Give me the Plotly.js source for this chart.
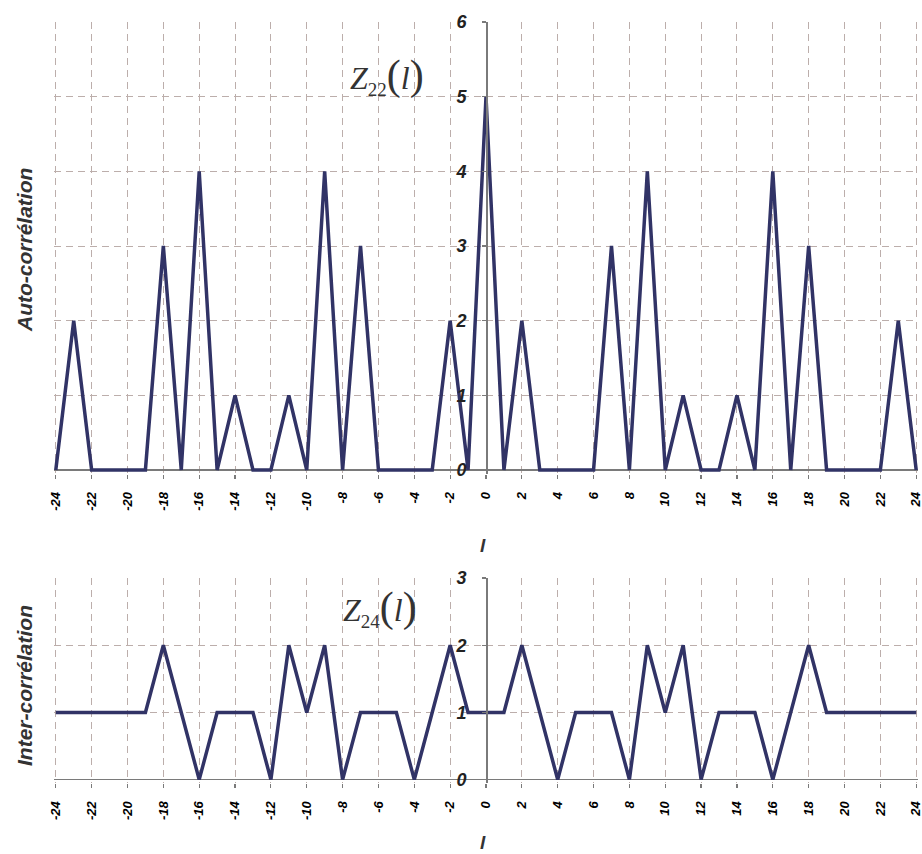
<!DOCTYPE html>
<html>
<head>
<meta charset="utf-8">
<script src="https://cdn.plot.ly/plotly-3.0.1.min.js"></script>
<style>html,body{margin:0;padding:0;background:#fff;}#chart{width:922px;height:854px;}</style>
</head>
<body>
<div id="chart"></div>
<script>
// lag values l = -24 .. 24
const lags = [-24,-23,-22,-21,-20,-19,-18,-17,-16,-15,-14,-13,-12,-11,-10,-9,-8,-7,-6,-5,-4,-3,-2,-1,0,1,2,3,4,5,6,7,8,9,10,11,12,13,14,15,16,17,18,19,20,21,22,23,24];
// Auto-correlation Z22(l)
const autoCorr = [0,2,0,0,0,0,3,0,4,0,1,0,0,1,0,4,0,3,0,0,0,0,2,0,5,0,2,0,0,0,0,3,0,4,0,1,0,0,1,0,4,0,3,0,0,0,0,2,0];
// Inter-correlation Z24(l)
const interCorr = [1,1,1,1,1,1,2,1,0,1,1,1,0,2,1,2,0,1,1,1,0,1,2,1,1,1,2,1,0,1,1,1,0,2,1,2,0,1,1,1,0,1,2,1,1,1,1,1,1];
const xTickVals = [-24,-22,-20,-18,-16,-14,-12,-10,-8,-6,-4,-2,0,2,4,6,8,10,12,14,16,18,20,22,24];
const xTickText = xTickVals.map(String);
const topYTicks = [0,1,2,3,4,5,6];
const bottomYTicks = [0,1,2,3];

const lineColor = '#313366';
const gridColor = '#bcaeab';
const axisColor = '#7a7a7a';

const traces = [
  {x: lags, y: autoCorr, xaxis: 'x', yaxis: 'y', type: 'scatter', mode: 'lines',
   line: {color: lineColor, width: 3.5}, hoverinfo: 'skip'},
  {x: lags, y: interCorr, xaxis: 'x2', yaxis: 'y2', type: 'scatter', mode: 'lines',
   line: {color: lineColor, width: 3.5}, hoverinfo: 'skip'}
];

function xAxis(anchor) {
  return {
    anchor: anchor, domain: [0, 1], range: [-24.1, 24.1],
    tickvals: xTickVals, ticktext: xTickText, tickangle: -90,
    tickfont: {family: 'Arial, Liberation Sans', size: 13, color: '#000', weight: 'bold', style: 'italic'},
    ticklabelstandoff: 8, ticklabeloverflow: 'allow',
    showgrid: true, gridcolor: gridColor, griddash: '7px,5px', gridwidth: 1,
    zeroline: false, showline: false,
    ticks: 'outside', ticklen: 4, tickcolor: axisColor, tickwidth: 1.2
  };
}
function yAxis(domain, range, ticks) {
  return {
    anchor: 'free', position: 0.5, domain: domain, range: range,
    tickvals: ticks, ticktext: ticks.map(String),
    tickfont: {family: 'Arial, Liberation Sans', size: 18, color: '#222', weight: 'bold', style: 'italic'},
    ticklabelstandoff: 12,
    showgrid: true, gridcolor: gridColor, griddash: '7px,5px', gridwidth: 1,
    zeroline: true, zerolinecolor: axisColor, zerolinewidth: 1.5,
    showline: true, linecolor: axisColor, linewidth: 1.5,
    ticks: 'outside', ticklen: 4, tickcolor: axisColor, tickwidth: 1.2
  };
}

const titleFont = {family: 'Arial, Liberation Sans', size: 21, color: '#333', weight: 'bold', style: 'italic'};
const lFont = {family: 'Arial, Liberation Sans', size: 19, color: '#333', weight: 'bold', style: 'italic'};
const mathFont = {family: 'Liberation Serif, Times New Roman, serif', size: 32, color: '#333'};

function mathLabel(sub) {
  return '<i>Z</i><sub><span style="font-size:19px">' + sub + '</span></sub>' +
         '<span style="font-size:42px">(</span><i>l</i><span style="font-size:42px">)</span>';
}

const layout = {
  width: 922, height: 854,
  margin: {l: 54, r: 4, t: 22, b: 71},
  paper_bgcolor: '#fff', plot_bgcolor: '#fff',
  showlegend: false,
  xaxis: xAxis('y'),
  yaxis: yAxis([0.4064, 1], [-0.05, 6], topYTicks),
  xaxis2: xAxis('y2'),
  yaxis2: yAxis([0, 0.2694], [-0.05, 3], bottomYTicks),
  annotations: [
    {xref: 'paper', yref: 'paper', x: (24-54)/864, y: (854-71-250)/761, text: 'Auto-corrélation',
     textangle: -90, showarrow: false, font: titleFont, xanchor: 'center', yanchor: 'middle'},
    {xref: 'paper', yref: 'paper', x: (24-54)/864, y: (854-71-686)/761, text: 'Inter-corrélation',
     textangle: -90, showarrow: false, font: titleFont, xanchor: 'center', yanchor: 'middle'},
    {xref: 'paper', yref: 'paper', x: (483-54)/864, y: (854-71-545)/761, text: 'l',
     showarrow: false, font: lFont, xanchor: 'center', yanchor: 'middle'},
    {xref: 'paper', yref: 'paper', x: (483-54)/864, y: (854-71-842)/761, text: 'l',
     showarrow: false, font: lFont, xanchor: 'center', yanchor: 'middle'},
    {xref: 'paper', yref: 'paper', x: (387-54)/864, y: (854-71-76)/761,
     text: mathLabel('22'), showarrow: false, font: mathFont, xanchor: 'center', yanchor: 'middle'},
    {xref: 'paper', yref: 'paper', x: (380-54)/864, y: (854-71-608)/761,
     text: mathLabel('24'), showarrow: false, font: mathFont, xanchor: 'center', yanchor: 'middle'}
  ]
};

Plotly.newPlot('chart', traces, layout, {staticPlot: true, displayModeBar: false});
</script>
</body>
</html>
